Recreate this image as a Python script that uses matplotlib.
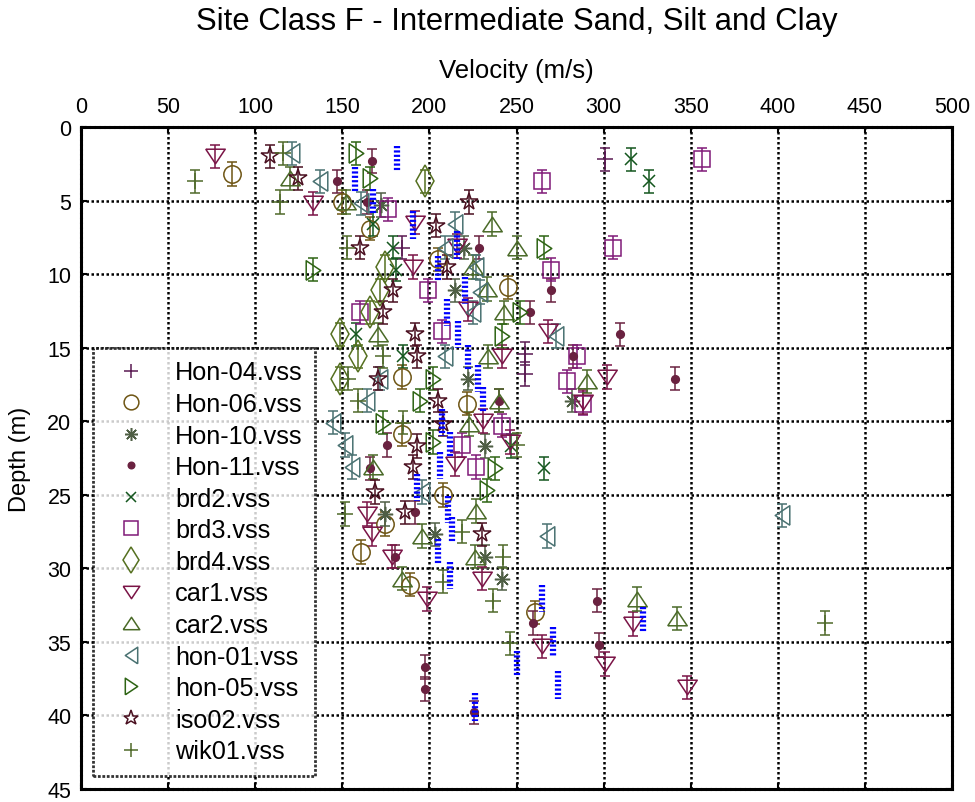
import matplotlib.pyplot as plt
from matplotlib.lines import Line2D

plt.rcParams['font.family'] = ['Liberation Sans', 'DejaVu Sans']

# velocity (m/s) and depth (m) of each profile
hon04_v = [301, 184, 255, 255]
hon04_d = [2.2, 8.2, 15.4, 16.8]

hon06_v = [86.5, 149.6, 166, 205, 245, 184, 221.6, 184, 208, 174.5, 160.5, 189, 260.6]
hon06_d = [3.2, 5.1, 6.9, 9.0, 10.9, 17.0, 18.8, 20.9, 25.0, 27.0, 28.9, 31.1, 33.0]

hon10_v = [172, 220, 214.7, 222, 282, 232, 174.5, 203, 232, 241.7]
hon10_d = [5.3, 8.2, 11.1, 17.1, 18.6, 21.7, 26.3, 27.7, 29.2, 30.7]

hon11_v = [167, 147, 164, 228.5, 269.8, 257.7, 309.4, 282.4, 341, 240,
           175.6, 166, 191.7, 180, 296, 259.5, 297.4, 197.5, 197.5, 225.6]
hon11_d = [2.3, 3.7, 5.1, 8.2, 11.1, 12.6, 14.1, 15.6, 17.1, 18.6,
           21.6, 23.2, 26.2, 29.2, 32.2, 33.7, 35.2, 36.7, 38.2, 39.8]

brd2_v = [315.7, 326, 167.6, 179, 181, 158, 185, 247, 266]
brd2_d = [2.2, 3.7, 6.6, 8.2, 9.7, 14.1, 15.6, 21.7, 23.2]

brd3_v = [356.5, 264.6, 176, 305.5, 270, 199, 160, 207, 284.6, 279, 288, 241.7, 218.7, 227]
brd3_d = [2.2, 3.7, 5.6, 8.2, 9.7, 11.1, 12.6, 13.9, 15.6, 17.3, 18.8, 20.3, 21.6, 23.1]

brd4_v = [197.5, 174.5, 171.6, 166, 148.7, 159, 148.7]
brd4_d = [3.7, 9.5, 11.1, 12.6, 14.1, 15.6, 17.1]

car1_v = [76.9, 133, 191.7, 216, 190.6, 222, 268, 241.7, 302, 288, 230.7, 246, 214.7,
          164, 167, 178.5, 230, 198.6, 316.9, 264.6, 300.8, 347.9]
car1_d = [2.0, 5.2, 6.5, 8.1, 9.5, 12.4, 13.9, 15.6, 17.0, 18.7, 20.0, 21.4, 22.9,
          26.3, 27.7, 29.2, 30.7, 32.1, 33.8, 35.3, 36.5, 38.1]

car2_v = [120, 152, 236, 250, 225, 233, 243, 170.5, 233.6, 290.5, 240, 223, 167.6,
          227, 195.7, 226, 184, 319, 342]
car2_d = [3.5, 5.1, 6.6, 8.2, 9.5, 11.0, 12.6, 14.1, 15.6, 17.3, 18.6, 20.2, 23.1,
          26.1, 27.8, 29.2, 30.7, 32.1, 33.4]

hon01_v = [121, 137, 161, 214.7, 209, 227, 229, 225, 272.6, 209, 171.6, 164, 144.7,
           151.5, 155.6, 196, 402.4, 267.5]
hon01_d = [1.8, 3.7, 5.2, 6.6, 8.2, 9.5, 11.2, 12.6, 14.2, 15.6, 17.1, 18.6, 20.1,
           21.6, 23.1, 24.8, 26.4, 27.8]

hon05_v = [158, 166, 133, 266, 252, 241.7, 202, 194.6, 173.4, 202, 237.6, 233]
hon05_d = [1.8, 3.5, 9.7, 8.2, 12.6, 14.2, 17.1, 18.6, 20.1, 21.4, 23.2, 24.7]

iso02_v = [108.5, 124.6, 223, 204, 160, 210, 179, 173.4, 191.7, 193, 170.5, 205, 208,
           193, 190.6, 169, 186, 230]
iso02_d = [2.0, 3.5, 5.1, 6.7, 8.2, 9.5, 11.1, 12.6, 14.1, 15.6, 17.1, 18.6, 20.2,
           21.7, 23.1, 24.8, 26.2, 27.7]

wik01_v = [116, 65.4, 114, 152.6, 173.4, 153, 159, 185, 250, 151.5, 218.7, 242, 208,
           236.5, 427, 246]
wik01_d = [1.8, 3.7, 5.1, 8.2, 15.6, 17.1, 18.6, 20.1, 21.6, 26.3, 27.5, 29.2, 30.9,
           32.2, 33.7, 35.1]

# blue step segments
blue_v = [181.2, 157.3, 167.6, 190.6, 215.7, 205, 220.4, 210, 216.4, 222, 228, 230.8, 207,
          211.8, 206, 192.7, 210.7, 212.8, 205, 211.8, 264.5, 322.4, 271, 250, 274, 226.2]
blue_top = [1.3, 2.7, 4.2, 5.7, 7.1, 8.8, 10.2, 11.7, 13.2, 14.8, 16.2, 17.7, 19.2,
            20.7, 22.1, 23.6, 25.1, 26.5, 28.0, 29.6, 31.1, 32.6, 34.0, 35.6, 37.0, 38.5]
blue_bot = [3.0, 4.5, 6.0, 7.6, 9.0, 10.5, 12.0, 13.5, 15.0, 16.5, 18.0, 19.4, 21.0,
            22.4, 23.9, 25.4, 26.9, 28.3, 29.8, 31.4, 33.0, 34.3, 36.0, 37.4, 38.9, 40.4]

tri_down = [(-1, 0.75), (1, 0.75), (0, -0.75), (-1, 0.75)]
tri_up = [(-1, -0.75), (1, -0.75), (0, 0.75), (-1, -0.75)]
tri_left = [(0.75, -1), (0.75, 1), (-0.75, 0), (0.75, -1)]
tri_right = [(-0.75, -1), (-0.75, 1), (0.75, 0), (-0.75, -1)]

series = [
    ('Hon-04.vss', hon04_v, hon04_d, '+', '#5a1a52', 12, False),
    ('Hon-06.vss', hon06_v, hon06_d, 'o', '#6e5514', 12.5, False),
    ('Hon-10.vss', hon10_v, hon10_d, (8, 2, 0), '#4f5f45', 11, False),
    ('Hon-11.vss', hon11_v, hon11_d, 'o', '#6a2240', 5.5, True),
    ('brd2.vss', brd2_v, brd2_d, 'x', '#14561e', 8, False),
    ('brd3.vss', brd3_v, brd3_d, 's', '#801a78', 12, False),
    ('brd4.vss', brd4_v, brd4_d, 'd', '#557020', 16, False),
    ('car1.vss', car1_v, car1_d, tri_down, '#7a1446', 14, False),
    ('car2.vss', car2_v, car2_d, tri_up, '#4a6a28', 14, False),
    ('hon-01.vss', hon01_v, hon01_d, tri_left, '#4a7272', 14, False),
    ('hon-05.vss', hon05_v, hon05_d, tri_right, '#2e6414', 14, False),
    ('iso02.vss', iso02_v, iso02_d, '*', '#4a1020', 13, False),
    ('wik01.vss', wik01_v, wik01_d, '+', '#4f6a2a', 12, False),
]

fig = plt.figure(figsize=(9.75, 8.03), dpi=100)
ax = fig.add_axes([0.0831, 0.0162, 0.8933, 0.8244])

handles = []
for label, v, d, mk, col, ms, filled in series:
    ax.errorbar(v, d, yerr=0.8, ls='none', marker=mk, ms=ms, mec=col,
                mfc=col if filled else 'none', mew=1.1, ecolor=col,
                elinewidth=1.1, capsize=3.5, capthick=1.1, zorder=3)
    handles.append(Line2D([], [], ls='none', marker=mk, ms=ms * 0.85, mec=col,
                          mfc=col if filled else 'none', mew=1.1, label=label))

ax.vlines(blue_v, blue_top, blue_bot, colors='#0000ff', lw=4.5,
          linestyles=(0, (0.35, 0.35)), zorder=4)

ax.set_xlim(0, 500)
ax.set_ylim(45, 0)
ax.set_xticks(range(0, 501, 50))
ax.set_yticks(range(0, 46, 5))
ax.xaxis.set_label_position('top')
ax.tick_params(axis='both', which='both', direction='in', length=4, width=1.5,
               top=True, bottom=True, left=True, right=True,
               labeltop=True, labelbottom=False, labelsize=15.5, pad=7)
ax.set_xlabel('Velocity (m/s)', fontsize=18.5, labelpad=14)
ax.set_ylabel('Depth (m)', fontsize=17, labelpad=12)
fig.text(0.5297, 1 - 22 / 803, 'Site Class F - Intermediate Sand, Silt and Clay',
         fontsize=22.4, ha='center', va='center')

ax.grid(True, color='black', ls=(0, (1, 1)), lw=1.8)
ax.set_axisbelow(True)
for sp in ax.spines.values():
    sp.set_linestyle((0, (1, 0.6)))
    sp.set_linewidth(2.2)

leg = ax.legend(handles=handles, loc='lower left', bbox_to_anchor=(0.0138, 0.0196),
                borderaxespad=0, fontsize=18.2, frameon=True, fancybox=False,
                labelspacing=0.3, handletextpad=0.75, borderpad=0.5,
                handlelength=2.0)
leg.get_frame().set_edgecolor('black')
leg.get_frame().set_linestyle((0, (1, 0.6)))
leg.get_frame().set_linewidth(2)
leg.set_zorder(5)

plt.savefig('out.png', dpi=100)
